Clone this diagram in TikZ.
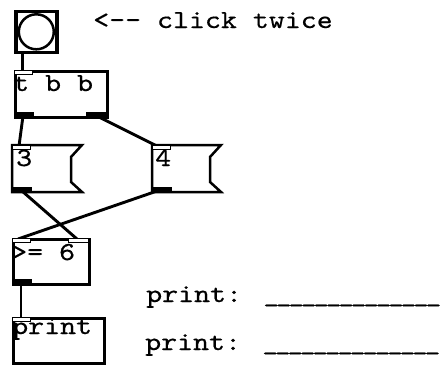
\documentclass[tikz,border=0pt]{standalone}
\font\pdfont="[lmmono10-regular.otf]:extend=1.17;embolden=0.45" at 26pt
\newcommand\pdtxt[1]{{\pdfont #1}}
\newcommand\ublank{\_\kern-3.5pt}
\newcommand\ublanks{\ublank\ublank\ublank\ublank\ublank\ublank\ublank\ublank\ublank\ublank\ublank\ublank\ublank\_}
\tikzset{
  pdline/.style={line width=2.5pt, line join=miter},
  pdbox/.style={draw, line width=2.5pt, fill=white, inner sep=0pt, anchor=north west},
  inletbox/.style={draw, line width=1pt, fill=white, inner sep=0pt, minimum width=18pt, minimum height=4pt, anchor=north west},
  outletbox/.style={fill=black, inner sep=0pt, minimum width=20pt, minimum height=5pt, anchor=south west},
  conn/.style={line width=2.9pt},
  pdtext/.style={inner sep=0pt, anchor=base west}
}
\begin{document}
\begin{tikzpicture}[x=1pt,y=-1pt]
\useasboundingbox (0,0) rectangle (442,365);
% connection end points
\coordinate (bangout) at (22.7,50);
\coordinate (tbbin) at (22.7,70);
\coordinate (tbbo1) at (23,116);
\coordinate (tbbo2) at (97,116);
\coordinate (in3) at (19,146);
\coordinate (in4) at (157,146);
\coordinate (out3) at (22,191);
\coordinate (out4) at (157,191);
\coordinate (geinL) at (18,239);
\coordinate (geinR) at (77,239);
\coordinate (geout) at (21,282);
\coordinate (prin) at (21,318);
\draw[conn] (bangout) -- (tbbin);
\draw[conn] (tbbo1) -- (in3);
\draw[conn] (tbbo2) -- (in4);
\draw[conn] (out3) -- (geinR);
\draw[conn] (out4) -- (geinL);
\draw[conn] (geout) -- (prin);
% bang
\node[pdbox, line width=3.6pt, minimum width=41pt, minimum height=41pt] (bang) at (14,9.5) {};
\node[draw, circle, line width=2.5pt, fill=white, minimum size=35pt, inner sep=0pt] (bangc) at (bang.center) {};
% t b b
\node[pdbox, minimum width=92pt, minimum height=46pt] (tbb) at (14,70) {};
\node[inletbox] (tbbi) at (14,70) {};
\node[outletbox] (tbbob1) at (14,117) {};
\node[outletbox] (tbbob2) at (86,117) {};
\node[pdtext] (tbbt) at (13,91) {\pdtxt{t b b}};
% number box 3
\draw[pdline, fill=white] (12,145) -- (82,145) -- (71,157) -- (71,182) -- (82,192) -- (12,192) -- cycle;
\node[inletbox] (n3i) at (12,145) {};
\node[outletbox] (n3o) at (12,192) {};
\node[pdtext] (n3t) at (16,166) {\pdtxt{3}};
% number box 4
\draw[pdline, fill=white] (152,145) -- (221,145) -- (210,157) -- (210,182) -- (221,192) -- (152,192) -- cycle;
\node[inletbox] (n4i) at (152,145) {};
\node[outletbox] (n4o) at (152,192) {};
\node[pdtext] (n4t) at (155,166) {\pdtxt{4}};
% >= 6
\node[pdbox, minimum width=76pt, minimum height=45pt] (ge) at (12,238) {};
\node[inletbox] (gei1) at (12,238) {};
\node[inletbox, minimum width=20pt] (gei2) at (68,238) {};
\node[outletbox] (geo) at (12,284) {};
\node[pdtext] (get) at (11,260) {\pdtxt{>= 6}};
% print
\node[pdbox, minimum width=91pt, minimum height=45pt] (pr) at (12,317) {};
\node[inletbox] (pri) at (12,317) {};
\node[pdtext] (prt) at (12,334) {\pdtxt{print}};
% comments
\node[pdtext] (c1) at (93,28) {\pdtxt{<-- click twice}};
\node[pdtext] (c2) at (146,302) {\pdtxt{print: \ublanks}};
\node[pdtext] (c3) at (145,350) {\pdtxt{print: \ublanks}};
\end{tikzpicture}
\end{document}
